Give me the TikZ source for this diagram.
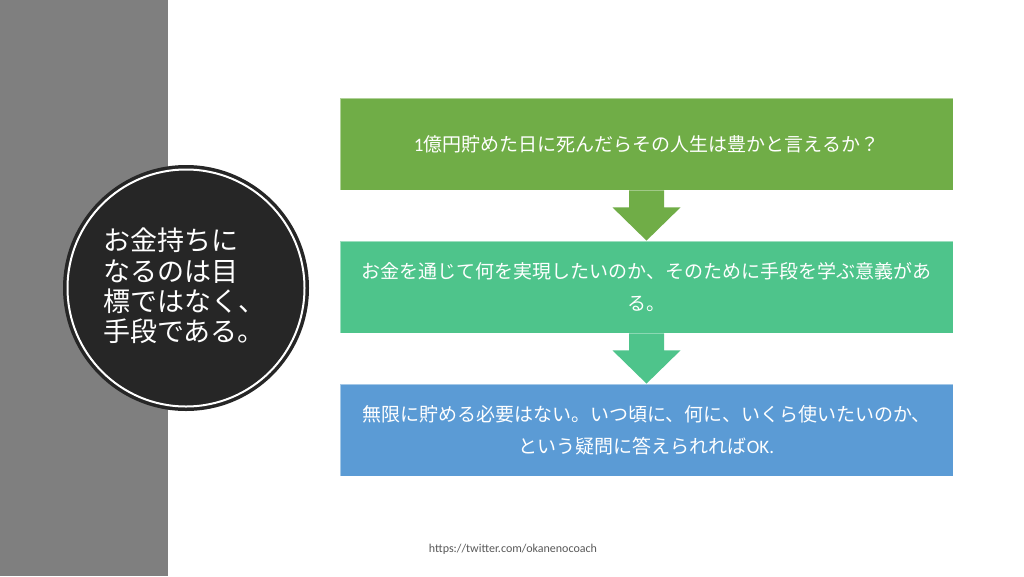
\documentclass[tikz,border=0pt]{standalone}
\usepackage{fontspec}
\setmainfont{Noto Sans CJK JP}
\newfontfamily\latinfont{Carlito}
\usetikzlibrary{calc}
\definecolor{band}{HTML}{7F7F7F}
\definecolor{disc}{HTML}{262626}
\definecolor{gA}{HTML}{70AD47}
\definecolor{gB}{HTML}{4EC48B}
\definecolor{bC}{HTML}{5B9BD5}
\definecolor{urlgray}{HTML}{595959}
\tikzset{
  stepbox/.style={rectangle, draw=white, draw opacity=0.45, line width=0.8pt, minimum width=613pt, minimum height=92pt,
    inner sep=0pt, text=white, align=center, font=\fontsize{19}{32}\selectfont},
  blockarrow/.style={line width=0pt},
}
\begin{document}
\begin{tikzpicture}[x=1pt,y=-1pt]
\useasboundingbox (0,0) rectangle (1024,576);
\fill[white] (0,0) rectangle (1024,576);
\fill[band] (0,0) rectangle (168,576);

% boxes
\node[stepbox, fill=gA] (b1) at (646.5,144) {{\latinfont 1}億円貯めた日に死んだらその人生は豊かと言えるか？};
\node[stepbox, fill=gB] (b2) at (646.5,287) {お金を通じて何を実現したいのか、そのために手段を学ぶ意義があ\\る。};
\node[stepbox, fill=bC] (b3) at (646.5,430) {無限に貯める必要はない。いつ頃に、何に、いくら使いたいのか、\\という疑問に答えられれば{\latinfont OK.}};

% block arrows
\fill[gA, blockarrow] ($(b1.south)+(-17.5,0)$) -- ++(0,17) -- ++(-16.5,0) -- (b2.north) -- ($(b1.south)+(34,17)$) -- ++(-16.5,0) -- ($(b1.south)+(17.5,0)$) -- cycle;
\fill[gB, blockarrow] ($(b2.south)+(-17.5,0)$) -- ++(0,17) -- ++(-16.5,0) -- (b3.north) -- ($(b2.south)+(34,17)$) -- ++(-16.5,0) -- ($(b2.south)+(17.5,0)$) -- cycle;

% circle
\node[circle, fill=disc, minimum size=246pt, inner sep=0pt] (c) at (186,288) {};
\draw[white, line width=2pt] (c.center) circle (118.5);
\node[text=white, align=left, font=\fontsize{27}{30.2}\selectfont, inner sep=0pt] (ct) at (184,286) {お金持ちに\\なるのは目\\標ではなく、\\手段である。};

% footer
\node[text=urlgray, font=\latinfont\fontsize{12}{14}\selectfont, inner sep=0pt] (url) at (513,549) {https://twitter.com/okanenocoach};
\end{tikzpicture}
\end{document}
